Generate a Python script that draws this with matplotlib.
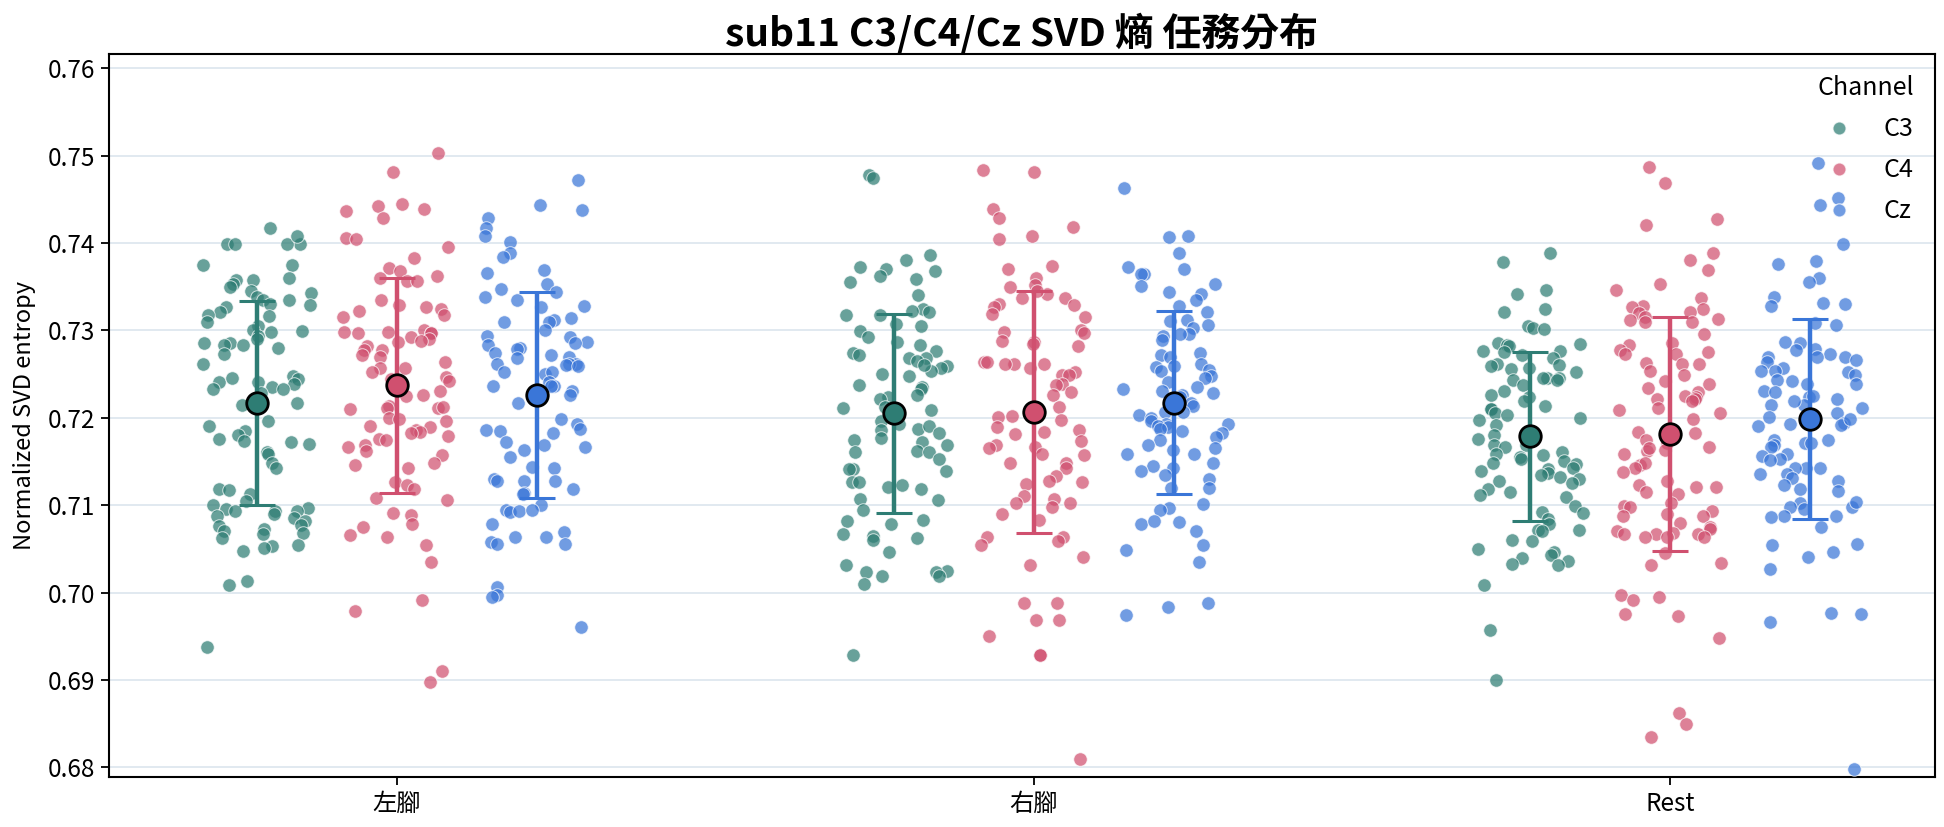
import numpy as np
import matplotlib
matplotlib.use("Agg")
import matplotlib.pyplot as plt
from matplotlib.lines import Line2D

plt.rcParams['font.family'] = ['Noto Sans CJK TC', 'DejaVu Sans']

tasks = ['左腳', '右腳', 'Rest']
channels = ['C3', 'C4', 'Cz']
colors = {'C3': '#2e7d74', 'C4': '#d0506f', 'Cz': '#3a76d8'}

left_C3 = [0.7417, 0.7399, 0.7399, 0.7399, 0.7399, 0.7408, 0.7375, 0.7375, 0.7360, 0.7358, 0.7358,
           0.7353, 0.7350, 0.7345, 0.7338, 0.7335, 0.7343, 0.7335, 0.7330, 0.7329, 0.7327, 0.7321,
           0.7316, 0.7318, 0.7310, 0.7305, 0.7300, 0.7299, 0.7298, 0.7293, 0.7290, 0.7285, 0.7285,
           0.7283, 0.7280, 0.7273, 0.7283, 0.7261, 0.7248, 0.7241, 0.7245, 0.7244, 0.7241, 0.7239,
           0.7235, 0.7233, 0.7233, 0.7228, 0.7220, 0.7217, 0.7215, 0.7196, 0.7190, 0.7185, 0.7180,
           0.7176, 0.7172, 0.7173, 0.7170, 0.7161, 0.7159, 0.7148, 0.7143, 0.7118, 0.7113, 0.7117,
           0.7105, 0.7100, 0.7097, 0.7096, 0.7093, 0.7093, 0.7093, 0.7090, 0.7088, 0.7085, 0.7082,
           0.7077, 0.7073, 0.7076, 0.7070, 0.7068, 0.7067, 0.7062, 0.7054, 0.7053, 0.7051, 0.7048,
           0.7013, 0.7009, 0.6938]
left_C4 = [0.7503, 0.7481, 0.7444, 0.7442, 0.7439, 0.7436, 0.7428, 0.7406, 0.7405, 0.7395, 0.7383,
           0.7371, 0.7368, 0.7362, 0.7360, 0.7357, 0.7356, 0.7335, 0.7329, 0.7327, 0.7325, 0.7322,
           0.7317, 0.7315, 0.7300, 0.7297, 0.7297, 0.7298, 0.7297, 0.7298, 0.7292, 0.7290, 0.7287,
           0.7288, 0.7282, 0.7277, 0.7278, 0.7272, 0.7269, 0.7264, 0.7257, 0.7257, 0.7252, 0.7247,
           0.7244, 0.7242, 0.7237, 0.7236, 0.7231, 0.7226, 0.7225, 0.7214, 0.7211, 0.7211, 0.7212,
           0.7210, 0.7200, 0.7199, 0.7196, 0.7191, 0.7189, 0.7186, 0.7184, 0.7182, 0.7179, 0.7176,
           0.7174, 0.7169, 0.7166, 0.7162, 0.7157, 0.7148, 0.7146, 0.7143, 0.7127, 0.7123, 0.7118,
           0.7108, 0.7106, 0.7091, 0.7089, 0.7078, 0.7075, 0.7066, 0.7064, 0.7054, 0.7035, 0.6991,
           0.6979, 0.6910, 0.6898]
left_Cz = [0.7472, 0.7443, 0.7438, 0.7429, 0.7417, 0.7408, 0.7401, 0.7389, 0.7384, 0.7369, 0.7366,
           0.7353, 0.7347, 0.7344, 0.7338, 0.7335, 0.7328, 0.7327, 0.7314, 0.7312, 0.7309, 0.7309,
           0.7300, 0.7294, 0.7292, 0.7287, 0.7285, 0.7283, 0.7280, 0.7279, 0.7274, 0.7272, 0.7270,
           0.7268, 0.7262, 0.7262, 0.7262, 0.7260, 0.7259, 0.7252, 0.7250, 0.7252, 0.7241, 0.7236,
           0.7236, 0.7236, 0.7231, 0.7226, 0.7217, 0.7199, 0.7193, 0.7187, 0.7185, 0.7186, 0.7183,
           0.7172, 0.7169, 0.7167, 0.7163, 0.7155, 0.7144, 0.7142, 0.7130, 0.7128, 0.7128, 0.7128,
           0.7119, 0.7114, 0.7113, 0.7100, 0.7094, 0.7092, 0.7093, 0.7094, 0.7078, 0.7069, 0.7063,
           0.7063, 0.7058, 0.7056, 0.7055, 0.7006, 0.6997, 0.6995, 0.6961]
right_C3 = [0.7478, 0.7474, 0.7386, 0.7381, 0.7372, 0.7370, 0.7368, 0.7362, 0.7359, 0.7355, 0.7340,
            0.7324, 0.7321, 0.7322, 0.7318, 0.7317, 0.7307, 0.7305, 0.7299, 0.7292, 0.7287, 0.7283,
            0.7276, 0.7274, 0.7272, 0.7268, 0.7268, 0.7265, 0.7259, 0.7257, 0.7254, 0.7260, 0.7250,
            0.7248, 0.7238, 0.7235, 0.7233, 0.7226, 0.7224, 0.7222, 0.7212, 0.7211, 0.7209, 0.7207,
            0.7196, 0.7193, 0.7187, 0.7186, 0.7190, 0.7183, 0.7177, 0.7175, 0.7172, 0.7169, 0.7161,
            0.7162, 0.7161, 0.7153, 0.7141, 0.7141, 0.7139, 0.7127, 0.7126, 0.7123, 0.7121, 0.7119,
            0.7107, 0.7106, 0.7094, 0.7083, 0.7082, 0.7078, 0.7067, 0.7065, 0.7060, 0.7062, 0.7046,
            0.7032, 0.7025, 0.7024, 0.7019, 0.7023, 0.7019, 0.7010, 0.6928]
right_C4 = [0.7484, 0.7481, 0.7439, 0.7429, 0.7418, 0.7408, 0.7404, 0.7374, 0.7370, 0.7360, 0.7350,
            0.7352, 0.7342, 0.7345, 0.7337, 0.7337, 0.7329, 0.7330, 0.7327, 0.7319, 0.7315, 0.7300,
            0.7298, 0.7297, 0.7288, 0.7287, 0.7284, 0.7282, 0.7264, 0.7262, 0.7262, 0.7264, 0.7262,
            0.7257, 0.7252, 0.7249, 0.7249, 0.7239, 0.7237, 0.7229, 0.7226, 0.7212, 0.7202, 0.7201,
            0.7197, 0.7189, 0.7186, 0.7184, 0.7181, 0.7173, 0.7169, 0.7167, 0.7165, 0.7157, 0.7158,
            0.7148, 0.7148, 0.7143, 0.7133, 0.7128, 0.7126, 0.7124, 0.7111, 0.7107, 0.7103, 0.7103,
            0.7098, 0.7090, 0.7083, 0.7064, 0.7063, 0.7059, 0.7054, 0.7041, 0.7031, 0.6988, 0.6988,
            0.6969, 0.6969, 0.6950, 0.6928, 0.6929, 0.6809]
right_Cz = [0.7463, 0.7407, 0.7408, 0.7388, 0.7373, 0.7370, 0.7365, 0.7364, 0.7353, 0.7351, 0.7344,
            0.7342, 0.7335, 0.7328, 0.7321, 0.7311, 0.7312, 0.7306, 0.7303, 0.7296, 0.7294, 0.7296,
            0.7289, 0.7274, 0.7272, 0.7269, 0.7261, 0.7259, 0.7258, 0.7255, 0.7254, 0.7248, 0.7245,
            0.7241, 0.7235, 0.7233, 0.7231, 0.7228, 0.7226, 0.7224, 0.7217, 0.7213, 0.7207, 0.7207,
            0.7203, 0.7200, 0.7196, 0.7193, 0.7193, 0.7191, 0.7189, 0.7187, 0.7185, 0.7183, 0.7178,
            0.7174, 0.7169, 0.7165, 0.7163, 0.7159, 0.7159, 0.7148, 0.7145, 0.7143, 0.7139, 0.7135,
            0.7130, 0.7120, 0.7120, 0.7101, 0.7097, 0.7095, 0.7081, 0.7079, 0.7082, 0.7070, 0.7054,
            0.7049, 0.7035, 0.6988, 0.6983, 0.6974]
rest_C3 = [0.7389, 0.7378, 0.7346, 0.7342, 0.7325, 0.7321, 0.7305, 0.7303, 0.7301, 0.7286, 0.7284,
           0.7283, 0.7282, 0.7275, 0.7276, 0.7272, 0.7276, 0.7268, 0.7261, 0.7259, 0.7256, 0.7260,
           0.7257, 0.7252, 0.7245, 0.7246, 0.7245, 0.7243, 0.7243, 0.7231, 0.7238, 0.7224, 0.7226,
           0.7219, 0.7213, 0.7210, 0.7210, 0.7206, 0.7203, 0.7200, 0.7197, 0.7192, 0.7180, 0.7177,
           0.7176, 0.7169, 0.7169, 0.7167, 0.7161, 0.7158, 0.7157, 0.7155, 0.7153, 0.7151, 0.7148,
           0.7147, 0.7142, 0.7141, 0.7139, 0.7137, 0.7134, 0.7132, 0.7128, 0.7130, 0.7125, 0.7119,
           0.7115, 0.7112, 0.7109, 0.7099, 0.7091, 0.7092, 0.7084, 0.7079, 0.7072, 0.7072, 0.7070,
           0.7060, 0.7059, 0.7050, 0.7046, 0.7043, 0.7040, 0.7036, 0.7031, 0.7033, 0.7009, 0.6957,
           0.6900]
rest_C4 = [0.7487, 0.7469, 0.7427, 0.7421, 0.7389, 0.7380, 0.7369, 0.7353, 0.7346, 0.7337, 0.7328,
           0.7327, 0.7324, 0.7321, 0.7320, 0.7315, 0.7313, 0.7309, 0.7309, 0.7312, 0.7296, 0.7283,
           0.7286, 0.7278, 0.7273, 0.7275, 0.7273, 0.7263, 0.7261, 0.7262, 0.7254, 0.7249, 0.7242,
           0.7239, 0.7234, 0.7229, 0.7225, 0.7224, 0.7222, 0.7222, 0.7219, 0.7211, 0.7209, 0.7205,
           0.7199, 0.7184, 0.7182, 0.7175, 0.7171, 0.7166, 0.7163, 0.7162, 0.7165, 0.7158, 0.7146,
           0.7148, 0.7142, 0.7138, 0.7128, 0.7123, 0.7121, 0.7121, 0.7115, 0.7113, 0.7102, 0.7099,
           0.7098, 0.7093, 0.7090, 0.7088, 0.7088, 0.7080, 0.7075, 0.7073, 0.7070, 0.7068, 0.7067,
           0.7067, 0.7067, 0.7064, 0.7063, 0.7063, 0.7045, 0.7034, 0.7032, 0.6997, 0.6995, 0.6991,
           0.6976, 0.6973, 0.6948, 0.6862, 0.6850, 0.6835]
rest_Cz = [0.7492, 0.7451, 0.7443, 0.7399, 0.7379, 0.7376, 0.7360, 0.7355, 0.7338, 0.7331, 0.7330,
           0.7328, 0.7308, 0.7306, 0.7286, 0.7287, 0.7278, 0.7279, 0.7273, 0.7269, 0.7269, 0.7269,
           0.7266, 0.7264, 0.7257, 0.7254, 0.7252, 0.7249, 0.7253, 0.7242, 0.7243, 0.7239, 0.7239,
           0.7231, 0.7230, 0.7224, 0.7225, 0.7222, 0.7215, 0.7215, 0.7219, 0.7211, 0.7206, 0.7201,
           0.7194, 0.7193, 0.7192, 0.7190, 0.7199, 0.7174, 0.7171, 0.7174, 0.7171, 0.7169, 0.7167,
           0.7158, 0.7156, 0.7153, 0.7152, 0.7143, 0.7143, 0.7142, 0.7136, 0.7136, 0.7131, 0.7128,
           0.7123, 0.7118, 0.7116, 0.7103, 0.7098, 0.7104, 0.7098, 0.7088, 0.7088, 0.7086, 0.7096,
           0.7075, 0.7056, 0.7054, 0.7046, 0.7041, 0.7027, 0.6976, 0.6977, 0.6966, 0.6798]

data = {
    ('左腳', 'C3'): left_C3, ('左腳', 'C4'): left_C4, ('左腳', 'Cz'): left_Cz,
    ('右腳', 'C3'): right_C3, ('右腳', 'C4'): right_C4, ('右腳', 'Cz'): right_Cz,
    ('Rest', 'C3'): rest_C3, ('Rest', 'C4'): rest_C4, ('Rest', 'Cz'): rest_Cz,
}

fig = plt.figure(figsize=(19.44, 8.27), dpi=100)
ax = fig.add_axes([0.056, 0.0605, 0.9394, 0.874])

offsets = {'C3': -0.22, 'C4': 0.0, 'Cz': 0.22}
rng = np.random.default_rng(7)

for ti, task in enumerate(tasks):
    for ch in channels:
        vals = np.asarray(data[(task, ch)])
        xc = ti + offsets[ch]
        jit = rng.uniform(-0.085, 0.085, size=len(vals))
        ax.scatter(xc + jit, vals, s=95, color=colors[ch], alpha=0.72,
                   edgecolors='white', linewidths=0.7, zorder=3)
        m = vals.mean()
        sd = vals.std(ddof=1)
        ax.errorbar(xc, m, yerr=sd, fmt='none', ecolor=colors[ch], elinewidth=3.2,
                    capsize=13, capthick=2.2, zorder=5)
        ax.plot(xc, m, 'o', markersize=15.5, markerfacecolor=colors[ch],
                markeredgecolor='black', markeredgewidth=2.0, zorder=6)

ax.set_xlim(-0.4525, 2.416)
ax.set_ylim(0.6789, 0.7616)
ax.set_xticks(range(len(tasks)))
ax.set_xticklabels(tasks)
ax.set_yticks([0.68, 0.69, 0.70, 0.71, 0.72, 0.73, 0.74, 0.75, 0.76])
ax.set_yticklabels(['0.68', '0.69', '0.70', '0.71', '0.72', '0.73', '0.74', '0.75', '0.76'])
ax.tick_params(axis='both', labelsize=17.5, length=6, width=1.3, direction='out', pad=4)
ax.yaxis.grid(True, color='#dbe5ee', linewidth=1.2, zorder=0)
ax.set_axisbelow(True)
for sp in ax.spines.values():
    sp.set_color('black')
    sp.set_linewidth(1.5)

ax.set_ylabel('Normalized SVD entropy', fontsize=17, labelpad=8)
ax.set_title('sub11 C3/C4/Cz SVD 熵 任務分布', fontsize=28, fontweight='bold', pad=6)

handles = [Line2D([0], [0], marker='o', linestyle='none', markersize=9.5,
                  markerfacecolor=colors[c], markeredgecolor='white', alpha=0.72) for c in channels]
leg = ax.legend(handles, channels, title='Channel', loc='upper right', frameon=False,
                fontsize=18, title_fontsize=18, handletextpad=0.8, labelspacing=0.6,
                borderaxespad=0.45, markerfirst=True)
leg._legend_box.align = 'right'

fig.savefig('out.png', dpi=100)
